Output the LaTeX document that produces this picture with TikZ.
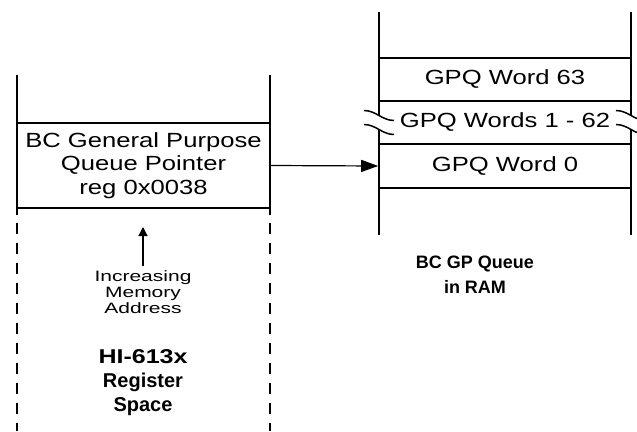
\documentclass[tikz,border=0pt]{standalone}
\usepackage{fontspec}
\setmainfont{Liberation Sans}
\newfontfamily\widesans[FakeStretch=1.25]{Liberation Sans}
\newfontfamily\widersans[FakeStretch=1.4]{Liberation Sans}
\usetikzlibrary{arrows.meta,positioning}

\begin{document}
\begin{tikzpicture}[x=1pt,y=-1pt,
  regbox/.style={draw,fill=white,line width=1.6pt,minimum width=253pt,minimum height=85pt,
                 inner sep=0pt,align=center,font=\widesans\fontsize{20.5}{23.5}\selectfont},
  wordbox/.style={draw,line width=1.6pt,minimum width=252pt,minimum height=43.5pt,
                  inner sep=0pt,align=center,font=\widesans\fontsize{20.5}{23.5}\selectfont},
  colline/.style={line width=2.2pt},
  note/.style={align=center,inner sep=4pt,font=\widersans\fontsize{15}{16}\selectfont},
  title/.style={align=center,font=\bfseries\fontsize{20}{24}\selectfont},
  breakmark/.pic={
    \fill[white] (-15,-12) .. controls (-3,-12) and (3,-2) .. (15,-2)
      -- (15,12) .. controls (3,12) and (-3,2) .. (-15,2) -- cycle;
    \draw[line width=1.5pt] (-15,-12) .. controls (-3,-12) and (3,-2) .. (15,-2);
    \draw[line width=1.5pt] (-15,2) .. controls (-3,2) and (3,12) .. (15,12);
  },
]
\useasboundingbox (0,0) rectangle (637,431);

% register space column
\draw[colline] (17,75) -- (17,215);
\draw[colline] (270,75) -- (270,215);
\draw[colline,line width=2.6pt,dash pattern=on 11pt off 9pt] (17,223) -- (17,431);
\draw[colline,line width=2.6pt,dash pattern=on 11pt off 9pt] (270,223) -- (270,431);
\node[regbox] (regptr) at (143.5,165.5) {BC General Purpose\\Queue Pointer\\reg 0x0038};

% queue column in RAM
\draw[colline] (379,12) -- (379,235);
\draw[colline] (631,12) -- (631,235);
\node[wordbox] (word63) at (505,79.5) {GPQ Word 63};
\node[wordbox] (words) at (505,122.5) {GPQ Words 1 - 62};
\node[wordbox] (word0) at (505,166) {GPQ Word 0};
\pic at (379,122.5) {breakmark};
\pic at (631,122.5) {breakmark};

\draw[line width=1.2pt,-{Triangle[length=17pt,width=12pt]}] (regptr.east) -- (word0.west);

\node[note] (incr) at (143,292) {Increasing\\Memory\\Address};
\coordinate (uptip) at (143,227);
\draw[line width=1.2pt,-{Triangle[length=9pt,width=9pt]}] (incr.north) -- (uptip);

\node[title] (regspace) at (143,383) {\widesans HI-613x\\Register\\Space};
\node[title,font=\bfseries\fontsize{18}{25}\selectfont] (queuelbl) at (475,274.5) {BC GP Queue\\in RAM};
\end{tikzpicture}
\end{document}
